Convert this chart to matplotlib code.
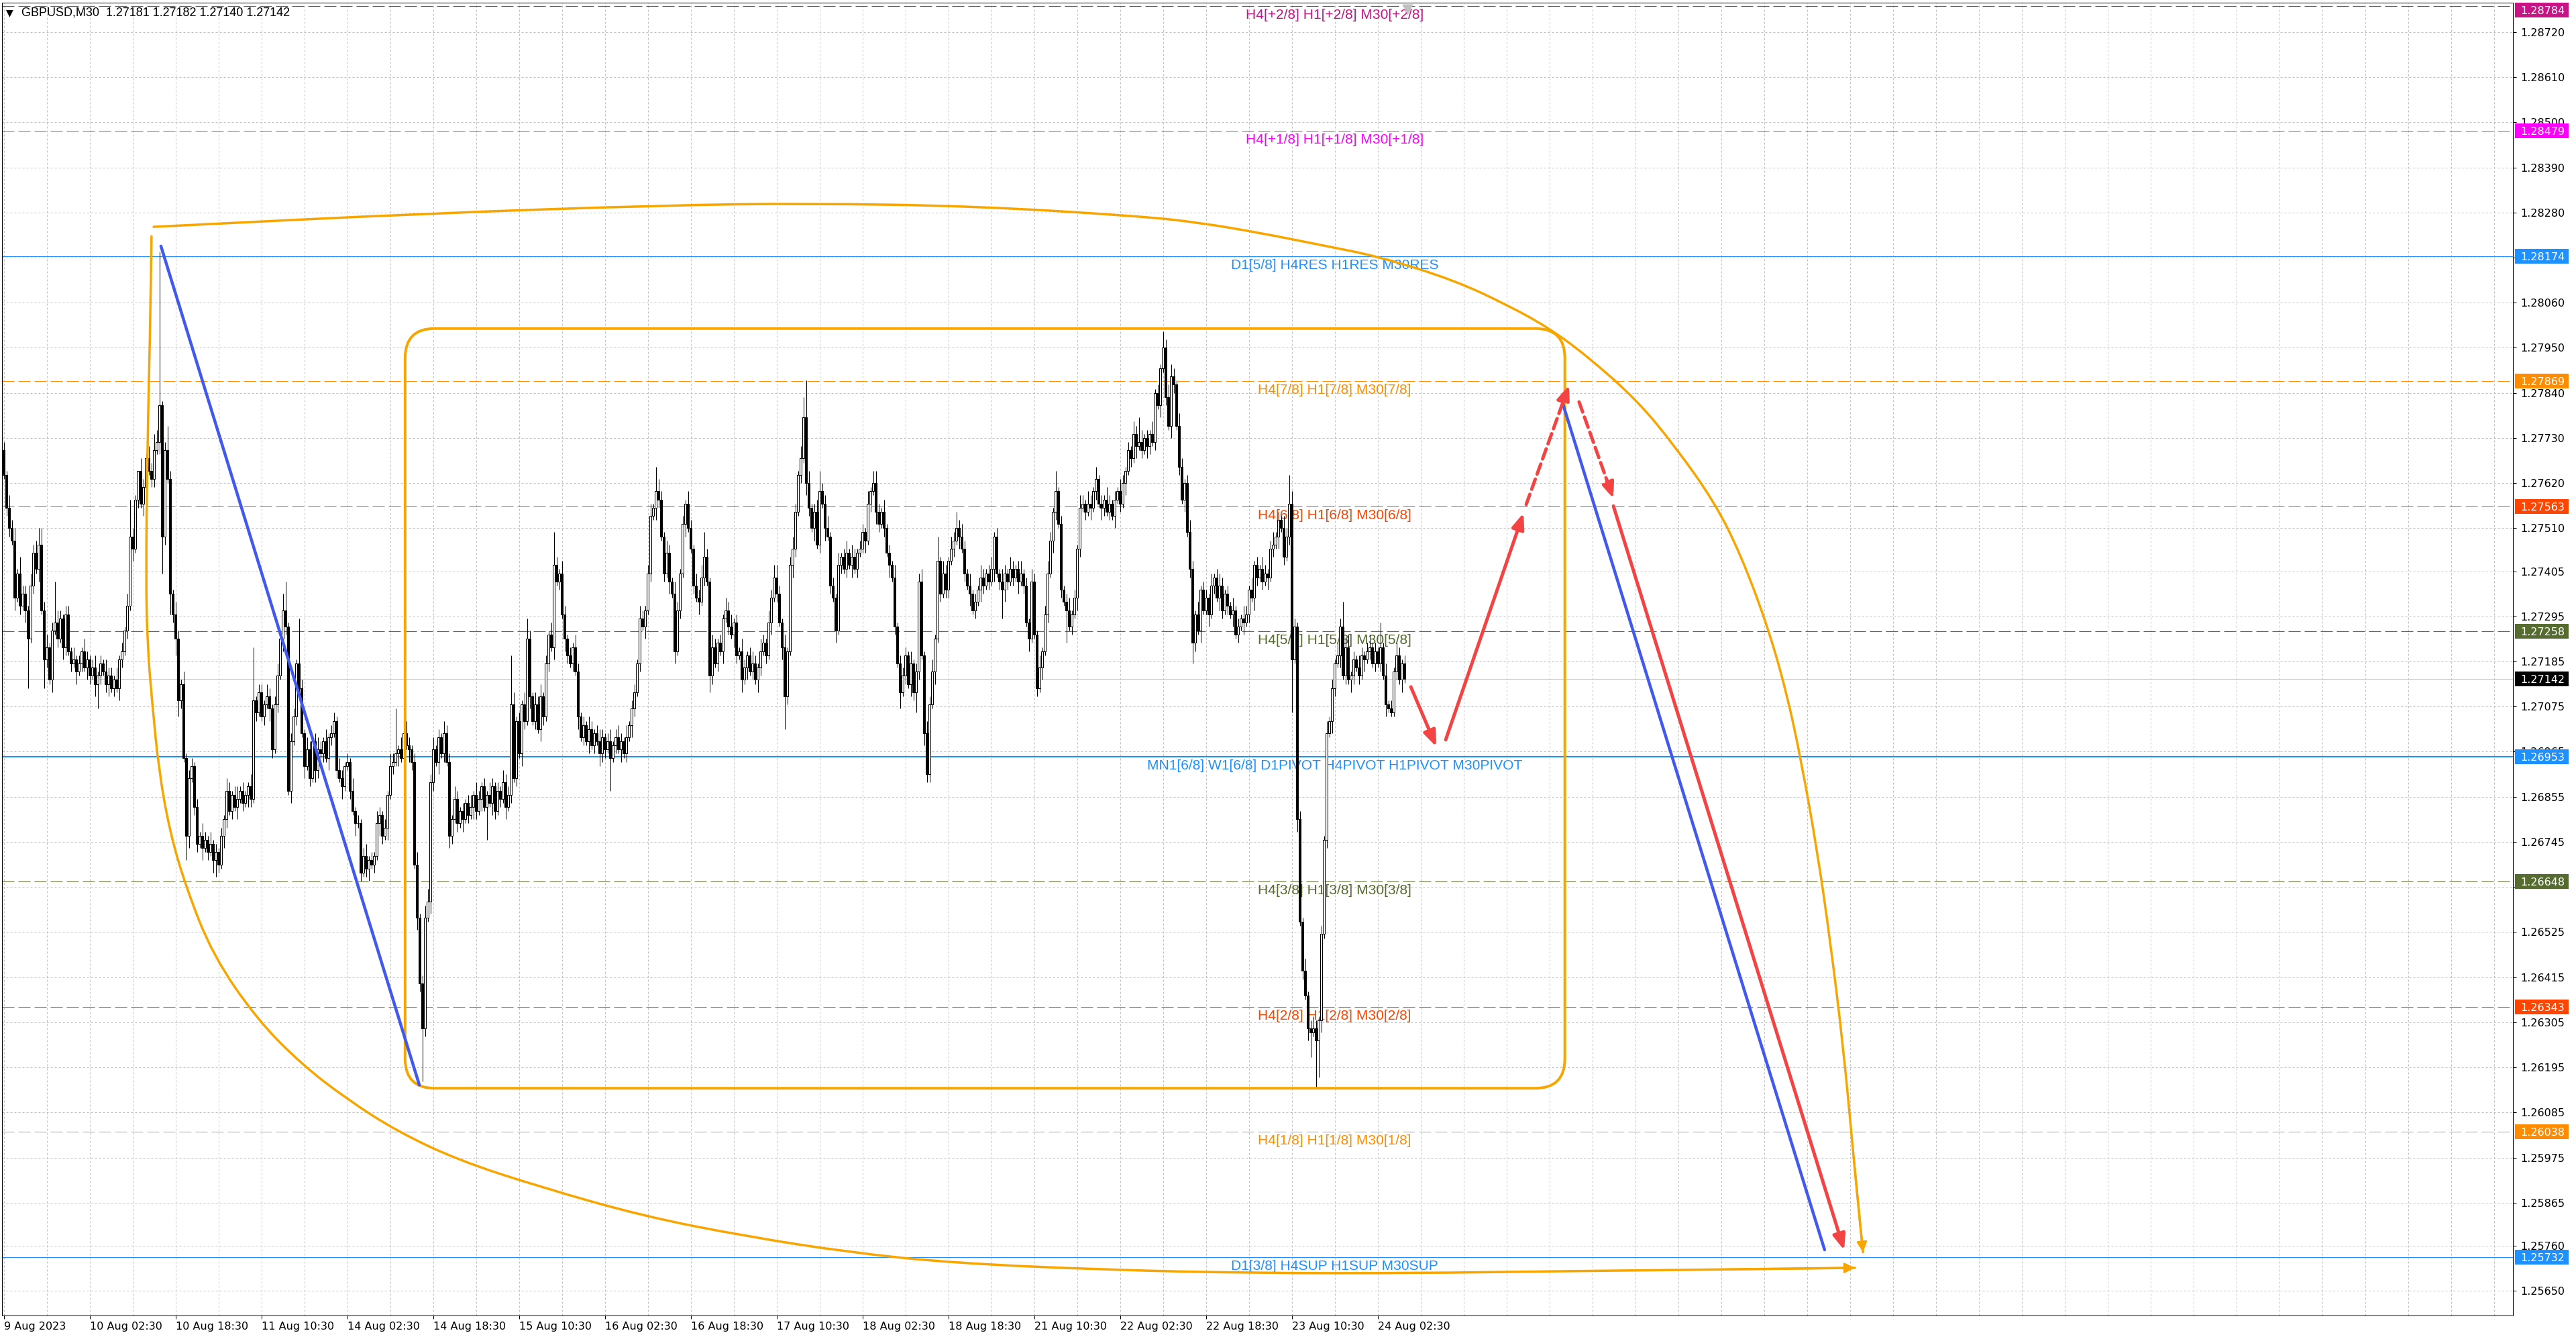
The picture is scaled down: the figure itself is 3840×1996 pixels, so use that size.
import numpy as np
import matplotlib
matplotlib.use('Agg')
import matplotlib.pyplot as plt
from matplotlib.patches import FancyBboxPatch, Rectangle, PathPatch
from matplotlib.path import Path
from matplotlib.transforms import blended_transform_factory

plt.rcParams['font.family'] = ['DejaVu Sans']

DPI = 100
W, H = 3840, 1996


def px(n):
    # pixels -> points
    return n * 72.0 / DPI


# ---- GBPUSD M30 candles, prices in pips above BASE (one close per bar) ----
BASE = 1.26
OPEN0 = 170
CLOSE_ROWS = [
    "164 156 151 148 134 140 132 135 131 124 137 145 141 147 131 119 122 114 126 128 124 129 122 130 121 118 119 116 118 121 117 119",
    "115 117 113 115 118 116 113 115 112 114 112 119 121 126 132 149 146 158 165 157 161 168 165 163 170 172 181 149 170 163 135 130",
    "124 109 113 95 76 90 93 83 74 76 73 75 72 74 70 72 69 76 80 87 82 86 83 85 87 84 86 88 85 109 106 111",
    "105 108 110 107 97 108 115 124 131 127 87 99 105 118 112 101 93 97 90 99 92 97 96 99 95 100 101 104 92 90 88 93",
    "94 87 82 79 79 67 71 68 70 69 71 79 81 76 78 86 93 94 96 97 95 101 98 97 94 69 56 40 29 56 60 89",
    "97 94 100 96 101 94 76 80 85 79 82 80 84 81 83 86 82 85 88 83 86 84 88 82 87 85 89 83 86 108 90 104",
    "96 108 104 124 110 104 108 102 110 105 118 125 122 142 138 140 130 124 120 118 122 116 105 100 103 99 102 98 101 99 96 100",
    "97 99 95 98 100 97 99 96 100 103 107 111 118 129 127 131 140 154 156 160 158 149 140 145 138 135 121 131 140 152 157 151",
    "146 137 134 133 139 144 138 115 122 118 123 121 129 131 127 125 128 120 121 114 117 120 116 118 114 117 121 123 120 128 134 139",
    "135 128 122 110 121 142 146 155 164 168 178 162 156 151 155 147 160 157 151 149 137 134 126 142 144 141 145 142 144 141 145 146",
    "150 148 157 160 162 155 152 155 151 145 142 139 127 118 111 115 120 113 118 111 116 138 120 101 91 108 116 124 143 135 140 136",
    "143 146 148 151 149 146 140 137 135 131 133 136 139 137 140 138 141 149 140 138 136 140 138 141 139 141 138 140 137 128 124 138",
    "125 112 117 121 130 140 148 155 160 152 136 133 131 127 130 134 146 156 157 155 157 156 160 163 157 156 158 155 157 154 158 160",
    "157 162 165 170 168 174 171 172 170 173 171 174 172 184 181 190 195 183 176 188 186 176 166 158 162 150 141 123 130 126 136 131",
    "134 130 137 139 134 137 131 135 132 130 131 125 127 129 128 130 136 134 142 139 141 138 140 139 146 147 149 153 151 144 149 157",
    "119 127 80 55 43 37 29 28 29 26 31 52 75 101 104 112 118 120 127 115 122 114 115 119 117 115 120 119 121 122 118 121",
    "118 122 115 108 107 106 116 120 114 118 114.2",
]
# wick lengths beyond the body, in pips (one digit per bar)
UP_WICK_ROWS = [
    "21323142 21323142 31213212 21312132", "12312132 21312132 21032132 43212321",
    "32131221 21321312 12132123 12113212", "21321232 14122132 13212321 31221321",
    "21312123 12132121 32213132 12312332", "31213221 32121231 32121321 21322131",
    "21322132 31213221 32121321 21321232", "12312321 31221321 23123213 21321213",
    "21323121 32121323 12132123 21321323", "32131232 13213123 12231213 12313212",
    "21312321 31213122 21312231 32312132", "13212321 31213212 31213213 21231213",
    "21312321 31212312 13213213 12132121", "32121321 31213121 32312132 12321312",
    "21312321 21312132 13121321 23121321", "32121312 32121312 13212312 13212312",
    "12131213 212",
]
DOWN_WICK_ROWS = [
    "12213121 32121312 21312132 12131213", "21312123 12132121 31213212 21312132",
    "13212312 21312131 21321213 12132121", "12132121 32131221 31213212 13212131",
    "12131212 31213213 12131213 21321213", "21312132 12131213 21312132 12131212",
    "13213121 32121312 13212131 21312132", "21312131 21321213 12132121 31212131",
    "12131213 21213121 32121312 13212131", "21312132 12132131 21312131 21213121",
    "13121321 21312131 21321213 12131212", "21213121 31213212 13121321 21312131",
    "12131213 21213121 32121312 13212131", "21312131 21321213 12132121 31212131",
    "13121321 21312131 21321213 12131212", "21312132 12131213 21312132 12131212",
    "12131212 131",
]
# bars whose extreme reaches further (bar index: pips)
SPIKE_HIGHS = {0: 172, 13: 151, 19: 138, 23: 132, 47: 158, 58: 218.5, 61: 176, 93: 122,
               104: 135, 105: 138, 110: 129, 146: 107, 149: 110, 189: 120, 195: 129,
               205: 150, 243: 166, 261: 150, 298: 183, 299: 187, 304: 165, 324: 165,
               348: 149, 355: 155, 392: 165, 407: 166, 423: 178, 432: 199, 435: 191,
               479: 164, 499: 133, 513: 128}
SPIKE_LOWS = {9: 112, 15: 112, 35: 107, 59: 140, 62: 130, 64: 120, 65: 105, 68: 70,
              79: 66, 156: 16, 180: 75, 226: 87, 250: 118, 263: 111, 275: 111, 291: 102,
              334: 107, 340: 106, 344: 89, 372: 129, 385: 110, 396: 123, 443: 118,
              480: 106, 487: 22, 489: 14.6, 490: 17, 517: 105}

# ---- time axis labels (every 32 bars) ----
XLABELS = ['9 Aug 2023', '10 Aug 02:30', '10 Aug 18:30', '11 Aug 10:30', '14 Aug 02:30',
           '14 Aug 18:30', '15 Aug 10:30', '16 Aug 02:30', '16 Aug 18:30', '17 Aug 10:30',
           '18 Aug 02:30', '18 Aug 18:30', '21 Aug 10:30', '22 Aug 02:30', '22 Aug 18:30',
           '23 Aug 10:30', '24 Aug 02:30']
YTICKS = [1.28720, 1.28610, 1.28500, 1.28390, 1.28280, 1.28170, 1.28060, 1.27950, 1.27840,
          1.27730, 1.27620, 1.27510, 1.27405, 1.27295, 1.27185, 1.27075, 1.26965, 1.26855,
          1.26745, 1.26635, 1.26525, 1.26415, 1.26305, 1.26195, 1.26085, 1.25975, 1.25865,
          1.25760, 1.25650]
HIDDEN_YTICKS = [1.28170, 1.26635]

# ---- Murrey math levels ----
LEVELS = [1.28784, 1.28479, 1.28174, 1.27869, 1.27563, 1.27258, 1.26953, 1.26648,
          1.26343, 1.26038, 1.25732]
LEVEL_TEXT = ['H4[+2/8] H1[+2/8] M30[+2/8]', 'H4[+1/8] H1[+1/8] M30[+1/8]',
              'D1[5/8] H4RES H1RES M30RES', 'H4[7/8] H1[7/8] M30[7/8]',
              'H4[6/8] H1[6/8] M30[6/8]', 'H4[5/8] H1[5/8] M30[5/8]',
              'MN1[6/8] W1[6/8] D1PIVOT H4PIVOT H1PIVOT M30PIVOT',
              'H4[3/8] H1[3/8] M30[3/8]', 'H4[2/8] H1[2/8] M30[2/8]',
              'H4[1/8] H1[1/8] M30[1/8]', 'D1[3/8] H4SUP H1SUP M30SUP']
LEVEL_COLORS = ['#C71585', '#FF00FF', '#1E90FF', '#FF8C00', '#FF4500', '#556B2F',
                '#1E90FF', '#556B2F', '#FF4500', '#FF8C00', '#1E90FF']
LEVEL_SOLID = [False, False, True, False, False, False, True, False, False, False, True]
LEVEL_WIDTH = [1, 1, 1, 1, 1, 1, 2, 1, 1, 1, 1]
LABEL_BAR = 496

# ---- hand drawn analysis objects ----
BOX_BARS = [149.6, 581.8]
BOX_PRICES = [1.26144, 1.27997]
BLUE_FROM = [(58.6, 1.28198), (580.7, 1.27821)]
BLUE_TO = [(154.9, 1.26152), (678.6, 1.25750)]
RED_SOLID_FROM = [(524.4, 1.27123), (537.4, 1.26994), (599.9, 1.27564)]
RED_SOLID_TO = [(533.9, 1.26977), (566.4, 1.27547), (685.9, 1.25749)]
RED_DASH_FROM = [(567.4, 1.27568), (587.1, 1.27818)]
RED_DASH_TO = [(583.4, 1.27859), (599.9, 1.27582)]
TOP_CURVE_BAR = [55.9, 158.1, 248.6, 298.6, 361.1, 423.6, 445.9, 468.4, 490.6, 512.9, 540.9,
                 561.1, 575.9, 589.9, 608.9, 623.4, 637.6, 647.1, 656.9, 664.4, 670.1, 675.9,
                 680.6, 685.6, 689.4, 692.9]
TOP_CURVE_PIPS = [224.5, 227.8, 229.8, 230.2, 229.6, 227.1, 225.5, 223.0, 220.1, 217.2, 211.4,
                  205.2, 199.8, 193.1, 182.1, 170.5, 157.3, 144.9, 128.0, 111.1, 93.5, 72.1,
                  50.8, 24.3, -2.4, -25.6]
BOTTOM_CURVE_BAR = [55.1, 54.5, 53.6, 53.0, 53.6, 55.3, 57.8, 61.9, 67.8, 77.8, 94.4, 111.1,
                    127.8, 146.6, 169.6, 200.1, 238.4, 276.6, 314.9, 353.1, 410.6, 468.1,
                    525.4, 582.9, 640.1, 689.9]
BOTTOM_CURVE_PIPS = [222.2, 197.2, 172.2, 138.8, 122.1, 108.7, 92.0, 77.0, 63.7, 47.0, 31.2,
                     20.2, 11.8, 3.9, -3.2, -9.7, -16.8, -21.7, -25.6, -28.2, -29.9, -30.7,
                     -30.7, -30.2, -29.8, -29.4]

TITLE = 'GBPUSD,M30  1.27181 1.27182 1.27140 1.27142'

# ---- build OHLC ----
closes = np.array([float(v) for row in CLOSE_ROWS for v in row.split()])
opens = np.concatenate([[OPEN0], closes[:-1]])
up = np.array([int(c) for row in UP_WICK_ROWS for c in row.replace(' ', '')], dtype=float)
dn = np.array([int(c) for row in DOWN_WICK_ROWS for c in row.replace(' ', '')], dtype=float)
highs = np.maximum(opens, closes) + up
lows = np.minimum(opens, closes) - dn
for k, v in SPIKE_HIGHS.items():
    highs[k] = max(v, max(opens[k], closes[k]))
for k, v in SPIKE_LOWS.items():
    lows[k] = min(v, min(opens[k], closes[k]))
to_price = lambda p: BASE + np.asarray(p) / 10000.0
O, Hh, L, C = to_price(opens), to_price(highs), to_price(lows), to_price(closes)
x = np.arange(len(C))


def smooth_path(xs, ys):
    # quadratic bezier through the midpoints of the read points (matplotlib renders the curve)
    pts = np.column_stack([xs, ys])
    verts, codes = [pts[0]], [Path.MOVETO]
    verts.append((pts[0] + pts[1]) / 2)
    codes.append(Path.LINETO)
    for i in range(1, len(pts) - 1):
        verts += [pts[i], (pts[i] + pts[i + 1]) / 2]
        codes += [Path.CURVE3, Path.CURVE3]
    verts.append(pts[-1])
    codes.append(Path.LINETO)
    return Path(np.array(verts), codes)


# ---- figure / axes geometry (pixel layout of the terminal) ----
fig = plt.figure(figsize=(W / DPI, H / DPI), dpi=DPI, facecolor='white')
AX_L, AX_R, AX_T, AX_B = 3, 3746, 4, 1961
ax = fig.add_axes([AX_L / W, (H - AX_B) / H, (AX_R - AX_L) / W, (AX_B - AX_T) / H])
ax_w, ax_h = AX_R - AX_L, AX_B - AX_T
ax.set_xlim(-0.625, 935.125)
ytop, ybot = 1.287917, 1.255897
ax.set_ylim(ybot, ytop)
px_per_bar = ax_w / (935.125 + 0.625)
px_per_price = ax_h / (ytop - ybot)

for s in ax.spines.values():
    s.set_color('black')
    s.set_linewidth(px(1))

# grid
for gx in range(0, 936, 16):
    ax.axvline(gx, color='#C0C0C0', lw=px(1), ls=(0, (3, 3)), zorder=0.5)
for gy in YTICKS:
    ax.axhline(gy, color='#C0C0C0', lw=px(1), ls=(0, (3, 3)), zorder=0.5)

# axis ticks
ax.yaxis.tick_right()
ax.set_yticks(YTICKS)
ax.set_yticklabels(['' if t in HIDDEN_YTICKS else f'{t:.5f}' for t in YTICKS])
ax.tick_params(axis='y', direction='out', length=px(5), width=px(1), pad=px(6),
               labelsize=px(16), colors='black')
ax.set_xticks(np.arange(len(XLABELS)) * 32)
ax.set_xticklabels(XLABELS)
for lbl in ax.get_xticklabels():
    lbl.set_horizontalalignment('left')
ax.tick_params(axis='x', direction='out', length=px(5), width=px(1), pad=px(4),
               labelsize=px(16), colors='black')

# level lines and labels
for lvl, txt, col, solid, lw in zip(LEVELS, LEVEL_TEXT, LEVEL_COLORS, LEVEL_SOLID, LEVEL_WIDTH):
    ax.axhline(lvl, color=col, lw=px(lw), ls='-' if solid else (0, (18, 6)), zorder=1)
    ax.annotate(txt, xy=(LABEL_BAR, lvl), xytext=(0, -4), textcoords='offset pixels',
                ha='center', va='top', color=col, fontsize=px(21),
                family=['Liberation Sans', 'DejaVu Sans'], zorder=1.5)
# bid line
ax.axhline(C[-1], color='#C0C0C0', lw=px(1), zorder=1)

# candles
bull = C >= O
ax.vlines(x, L, Hh, color='black', lw=px(1), zorder=2)
ax.bar(x, np.abs(C - O), bottom=np.minimum(O, C), width=0.6,
       color=np.where(bull, 'white', 'black'), edgecolor='black', linewidth=px(1), zorder=2.1)

# rounded box
ORANGE = '#F7A600'
rad = 44 / px_per_bar
ax.add_patch(FancyBboxPatch((BOX_BARS[0], BOX_PRICES[0]), BOX_BARS[1] - BOX_BARS[0],
                            BOX_PRICES[1] - BOX_PRICES[0],
                            boxstyle=f'round,pad=0,rounding_size={rad}',
                            mutation_aspect=px_per_bar / px_per_price,
                            fill=False, edgecolor=ORANGE, lw=px(4), zorder=3))

# orange curves with small heads
for bars, pips in [(TOP_CURVE_BAR, TOP_CURVE_PIPS), (BOTTOM_CURVE_BAR, BOTTOM_CURVE_PIPS)]:
    yy = to_price(pips)
    ax.add_patch(PathPatch(smooth_path(bars, yy), fill=False, edgecolor=ORANGE, lw=px(3.5),
                           capstyle='round', joinstyle='round', zorder=3))
    ax.annotate('', xy=(bars[-1], yy[-1]), xytext=(bars[-2], yy[-2]),
                arrowprops=dict(arrowstyle='-|>,head_length=9,head_width=4.5', color=ORANGE,
                                lw=px(3), shrinkA=0, shrinkB=0, mutation_scale=1), zorder=3)

# blue trend lines
for p0, p1 in zip(BLUE_FROM, BLUE_TO):
    ax.plot([p0[0], p1[0]], [p0[1], p1[1]], color='#4159EE', lw=px(4.5),
            solid_capstyle='round', zorder=3.2)

# red projection arrows
RED = '#F44343'
for frm, to, ls in [(RED_SOLID_FROM, RED_SOLID_TO, '-'), (RED_DASH_FROM, RED_DASH_TO, (0, (3.2, 1.6)))]:
    for p0, p1 in zip(frm, to):
        ax.annotate('', xy=p1, xytext=p0,
                    arrowprops=dict(arrowstyle='-|>,head_length=14,head_width=5.5', color=RED,
                                    lw=px(5), linestyle=ls, shrinkA=0, shrinkB=0,
                                    mutation_scale=1), zorder=3.5)

# price boxes on the right scale
trans = blended_transform_factory(ax.transAxes, ax.transData)
half_h = 11 / px_per_price
box_prices = LEVELS + [C[-1]]
box_colors = LEVEL_COLORS + ['black']
for p, col in zip(box_prices, box_colors):
    yc = min(p, ytop - half_h)
    ax.add_patch(Rectangle((1 + 3 / ax_w, yc - half_h), 80 / ax_w, 2 * half_h, transform=trans,
                           facecolor=col, edgecolor='none', clip_on=False, zorder=5))
    ax.text(1 + 11 / ax_w, yc, f'{p:.5f}', transform=trans, color='white', fontsize=px(16),
            ha='left', va='center_baseline', zorder=6, clip_on=False)

# chart shift marker and title
ax.plot([len(C)], [0.995], marker='v', ms=px(16), color='#C0C0C0', mec='none',
        transform=blended_transform_factory(ax.transData, ax.transAxes), clip_on=False, zorder=4)
ax.text(11 / ax_w, 1 - 15 / ax_h, '▼', transform=ax.transAxes, fontsize=px(14),
        ha='center', va='center', color='black')
ax.text(29 / ax_w, 1 - 15 / ax_h, TITLE, transform=ax.transAxes, fontsize=px(18),
        family=['Liberation Sans', 'DejaVu Sans'], ha='left', va='center', color='black')

fig.savefig('out.png', dpi=DPI, facecolor='white')
